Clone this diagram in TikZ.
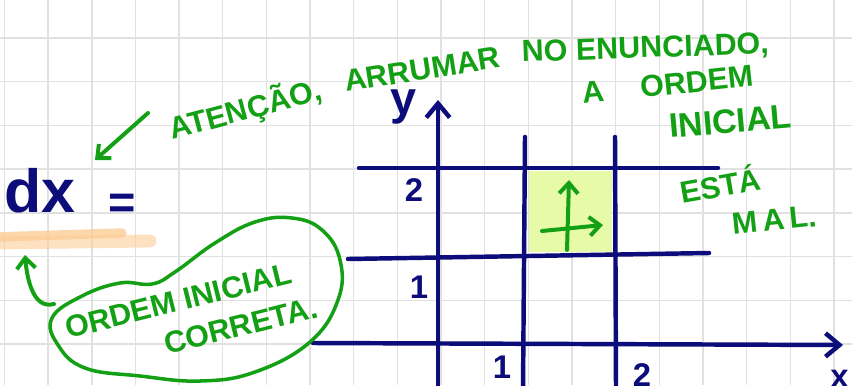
\documentclass[tikz,border=0pt]{standalone}
\usepackage{fontspec}
\newfontfamily\hand{Liberation Sans}
\usetikzlibrary{positioning,arrows.meta}
\definecolor{ink}{RGB}{12,12,122}
\definecolor{pen}{RGB}{20,160,20}
\definecolor{cellfill}{RGB}{230,250,168}
\definecolor{hilite}{RGB}{252,205,150}
\definecolor{gridgray}{RGB}{225,225,225}

\begin{document}
\begin{tikzpicture}[x=0.03cm,y=-0.03cm,
  gridline/.style={draw=gridgray,line width=1.2pt},
  axis/.style={draw=ink,line width=3.8pt,line cap=round},
  tip/.style={-{Straight Barb[length=12pt,width=20pt]}},
  greenarr/.style={draw=pen,line width=3.4pt,line cap=round,-{Straight Barb[length=9pt,width=16pt]}},
  note/.style={text=pen,font=\hand\bfseries\fontsize{26}{26}\selectfont,inner sep=0pt,anchor=base west},
  numlabel/.style={text=ink,font=\hand\bfseries\fontsize{28}{28}\selectfont,inner sep=0pt}
]
\useasboundingbox (0,0) rectangle (852,385);
\fill[white] (0,0) rectangle (852,385);
\foreach \k in {0,...,19} \draw[gridline] ({4.5+43.65*\k},0) -- ({4.5+43.65*\k},385);
\foreach \k in {0,...,7} \draw[gridline] (0,{38+43.7*\k}) -- (852,{38+43.7*\k});

\draw[hilite,line width=11pt,line cap=round,opacity=.6] (-5,243) -- (150,241);
\draw[hilite,line width=8pt,line cap=round,opacity=.8] (-5,237) -- (122,233);

\fill[cellfill] (529,171) rectangle (612,252);

\coordinate (yfoot) at (438,390);
\coordinate (ytop) at (438,100);
\coordinate (xfoot) at (313,343);
\coordinate (xtop) at (843,345);
\draw[axis,tip] (yfoot) -- (ytop);
\draw[axis,tip] (xfoot) -- (xtop);
\draw[axis] (359,168) -- (718,168);
\draw[axis] (348,259) -- (709,253);
\draw[axis] (525,137) -- (523,390);
\draw[axis] (615,137) -- (616,390);

\node[numlabel] (ytwo) at (414,190) {2};
\node[numlabel] (yone) at (419,287) {1};
\node[numlabel] (xone) at (502,367) {1};
\node[numlabel] (xtwo) at (642,375) {2};
\node[numlabel,font=\hand\bfseries\fontsize{40}{40}\selectfont] (ylab) at (404,107) {y};
\node[numlabel,anchor=north west] (xlab) at (830,370) {x};

\coordinate (vbot) at (567,250);
\coordinate (vtop) at (569,180);
\draw[greenarr] (vbot) -- (vtop);
\coordinate (hleft) at (542,231);
\coordinate (hright) at (603,225);
\draw[greenarr] (hleft) -- (hright);

\node[numlabel,anchor=base west,font=\hand\bfseries\fontsize{52}{52}\selectfont] (dx) at (4,212) {dx};
\node[numlabel,font=\hand\bfseries\fontsize{40}{40}\selectfont] (eq) at (122,206) {=};

\node[note,rotate=15] (warnA) at (172,140) {ATENÇÃO,};
\node[note,rotate=9] (warnB) at (346,92) {ARRUMAR};
\node[note,rotate=2] (warnC) at (522,62) {NO ENUNCIADO,};
\node[note,rotate=6] (ordA) at (583,104) {A\hspace{1.2em}ORDEM};
\node[note,rotate=5,font=\hand\bfseries\fontsize{29}{29}\selectfont] (iniA) at (670,138) {INICIAL};
\node[note,rotate=10] (esta) at (682,204) {ESTÁ};
\node[note,rotate=6] (mal) at (733,235) {M\,A\,L.};

\coordinate (warnfrom) at (148,113);
\coordinate (dxto) at (95,160);
\draw[greenarr] (warnfrom) -- (dxto);

\draw[pen,line width=3pt] plot[smooth cycle,tension=0.7] coordinates {(52,318) (58,345) (85,368) (140,376) (200,381) (255,372) (310,342) (338,300) (340,260) (322,230) (292,218) (255,222) (215,243) (175,272) (152,284) (120,283) (82,296)};
\node[note,rotate=14] (ordB) at (68,339) {ORDEM INICIAL};
\node[note,rotate=14] (corr) at (167,355) {CORRETA.};

\coordinate (blobleft) at (54,304);
\coordinate (hlpoint) at (25,255);
\draw[greenarr] (blobleft) to[out=195,in=-85] (hlpoint);
\end{tikzpicture}
\end{document}
